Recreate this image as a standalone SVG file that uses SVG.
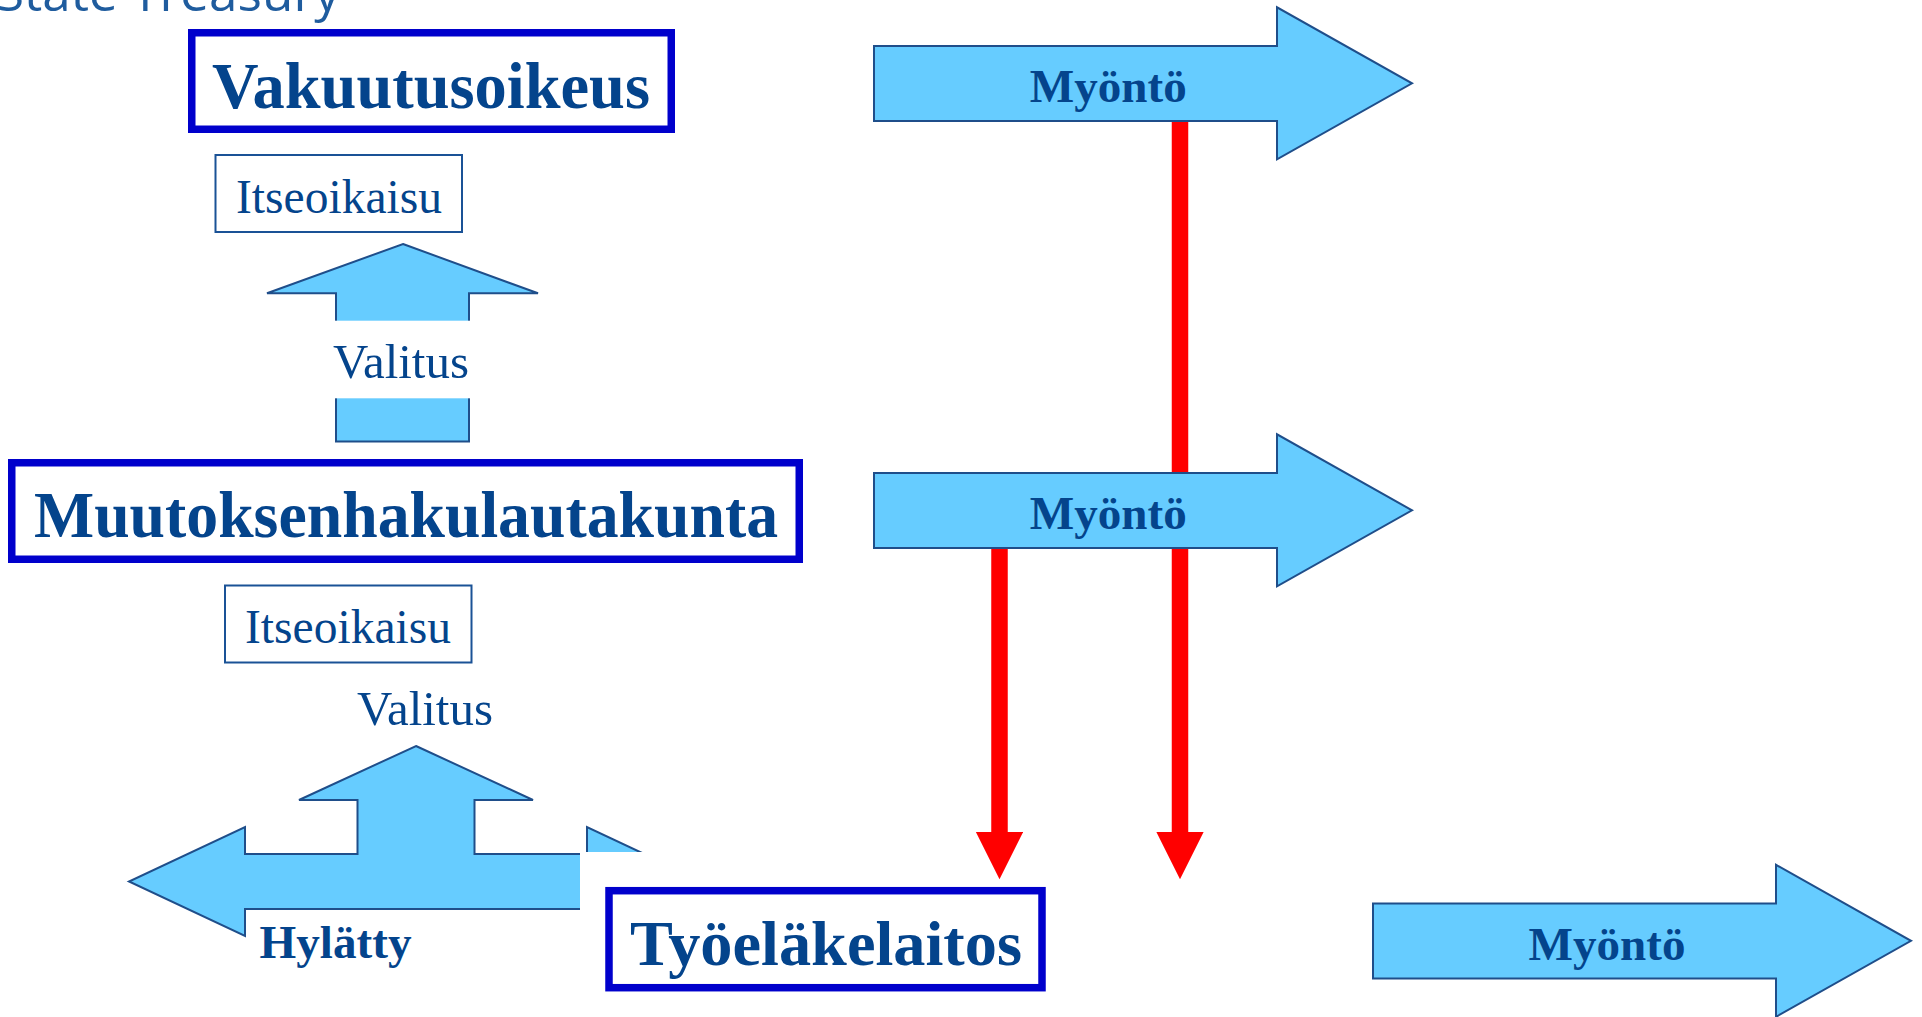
<svg xmlns="http://www.w3.org/2000/svg" width="1922" height="1017" viewBox="0 0 1922 1017">
  <style>
    .bg { fill: #ffffff; }
    .big { fill: #ffffff; stroke: #0000CC; stroke-width: 7.5; }
    .small { fill: #ffffff; stroke: #1A5296; stroke-width: 2; }
    .blk { fill: #66CCFF; stroke: #1F4E8A; stroke-width: 2; stroke-linejoin: miter; }
    .t { font-family: "Liberation Serif", "Times New Roman", serif; fill: #04448C; text-anchor: middle; }
    .tb { font-weight: bold; }
    .red { stroke: #FF0000; stroke-width: 16.5; fill: none; }
    .hdr { font-family: "Open Sans", "Liberation Sans", sans-serif; fill: #1F5C9E; font-size: 50px; }
  </style>
  <defs>
    <marker id="redHead" viewBox="0 0 48 48" markerUnits="userSpaceOnUse" markerWidth="48" markerHeight="48" refX="1" refY="23.65" orient="auto">
      <path d="M0,0 L47.3,23.65 L0,47.3 Z" fill="#FF0000"/>
    </marker>
    <clipPath id="hylClip">
      <rect x="0" y="0" width="1922" height="852"/>
      <rect x="0" y="0" width="580" height="1017"/>
    </clipPath>
    <path id="myontoShape" d="M874,46 H1277 V7.3 L1412,83.3 L1277,159.3 V121 H874 Z"/>
  </defs>

  <rect class="bg" x="0" y="0" width="1922" height="1017"/>

  <text class="hdr" x="-4" y="11" textLength="344" lengthAdjust="spacingAndGlyphs">State Treasury</text>

  <g id="connectors">
    <line class="red" x1="1180" y1="100" x2="1180" y2="833" marker-end="url(#redHead)"/>
    <line class="red" x1="999.5" y1="540" x2="999.5" y2="833" marker-end="url(#redHead)"/>
  </g>

  <g id="vakuutusoikeus">
    <rect class="big" x="191.75" y="32.75" width="479.5" height="96.5"/>
    <text class="t tb" x="431" y="108.3" font-size="65" textLength="438" lengthAdjust="spacingAndGlyphs">Vakuutusoikeus</text>
  </g>

  <g id="itseoikaisu-1">
    <rect class="small" x="215.5" y="155" width="246.5" height="77"/>
    <text class="t" x="339" y="212.7" font-size="48" textLength="206" lengthAdjust="spacingAndGlyphs">Itseoikaisu</text>
  </g>

  <g id="valitus-1">
    <path class="blk" d="M403,244 L538,293.3 H469 V441.5 H336 V293.3 H267 Z"/>
    <rect class="bg" x="320" y="320.7" width="166" height="77.6"/>
    <text class="t" x="401" y="378.3" font-size="48" textLength="136" lengthAdjust="spacingAndGlyphs">Valitus</text>
  </g>

  <g id="muutoksenhakulautakunta">
    <rect class="big" x="11.75" y="462.75" width="787.5" height="96.5"/>
    <text class="t tb" x="406" y="536.7" font-size="65" textLength="744" lengthAdjust="spacingAndGlyphs">Muutoksenhakulautakunta</text>
  </g>

  <g id="itseoikaisu-2">
    <rect class="small" x="225" y="585.5" width="246.5" height="77"/>
    <text class="t" x="348" y="642.7" font-size="48" textLength="206" lengthAdjust="spacingAndGlyphs">Itseoikaisu</text>
  </g>

  <g id="valitus-hylatty">
    <path class="blk" clip-path="url(#hylClip)" d="M416,746 L533,800 H474.5 V854 H587 V827 L703,881.5 L587,936 V909 H245 V936 L129,881.5 L245,827 V854 H357.5 V800 H299 Z"/>
    <text class="t" x="425" y="724.5" font-size="48" textLength="136" lengthAdjust="spacingAndGlyphs">Valitus</text>
    <text class="t tb" x="335.5" y="957.7" font-size="47" textLength="152" lengthAdjust="spacingAndGlyphs">Hylätty</text>
  </g>

  <g id="tyoelakelaitos">
    <rect class="big" x="609" y="890.7" width="433" height="97"/>
    <text class="t tb" x="826" y="965" font-size="64" textLength="392" lengthAdjust="spacingAndGlyphs">Työeläkelaitos</text>
  </g>

  <g id="myonto-1">
    <use href="#myontoShape" class="blk"/>
    <text class="t tb" x="1108.3" y="101.7" font-size="47" textLength="157" lengthAdjust="spacingAndGlyphs">Myöntö</text>
  </g>

  <g id="myonto-2">
    <use href="#myontoShape" class="blk" transform="translate(0,427)"/>
    <text class="t tb" x="1108.3" y="528.7" font-size="47" textLength="157" lengthAdjust="spacingAndGlyphs">Myöntö</text>
  </g>

  <g id="myonto-3">
    <use href="#myontoShape" class="blk" transform="translate(499,857.5)"/>
    <text class="t tb" x="1607" y="959.5" font-size="47" textLength="157" lengthAdjust="spacingAndGlyphs">Myöntö</text>
  </g>
</svg>
